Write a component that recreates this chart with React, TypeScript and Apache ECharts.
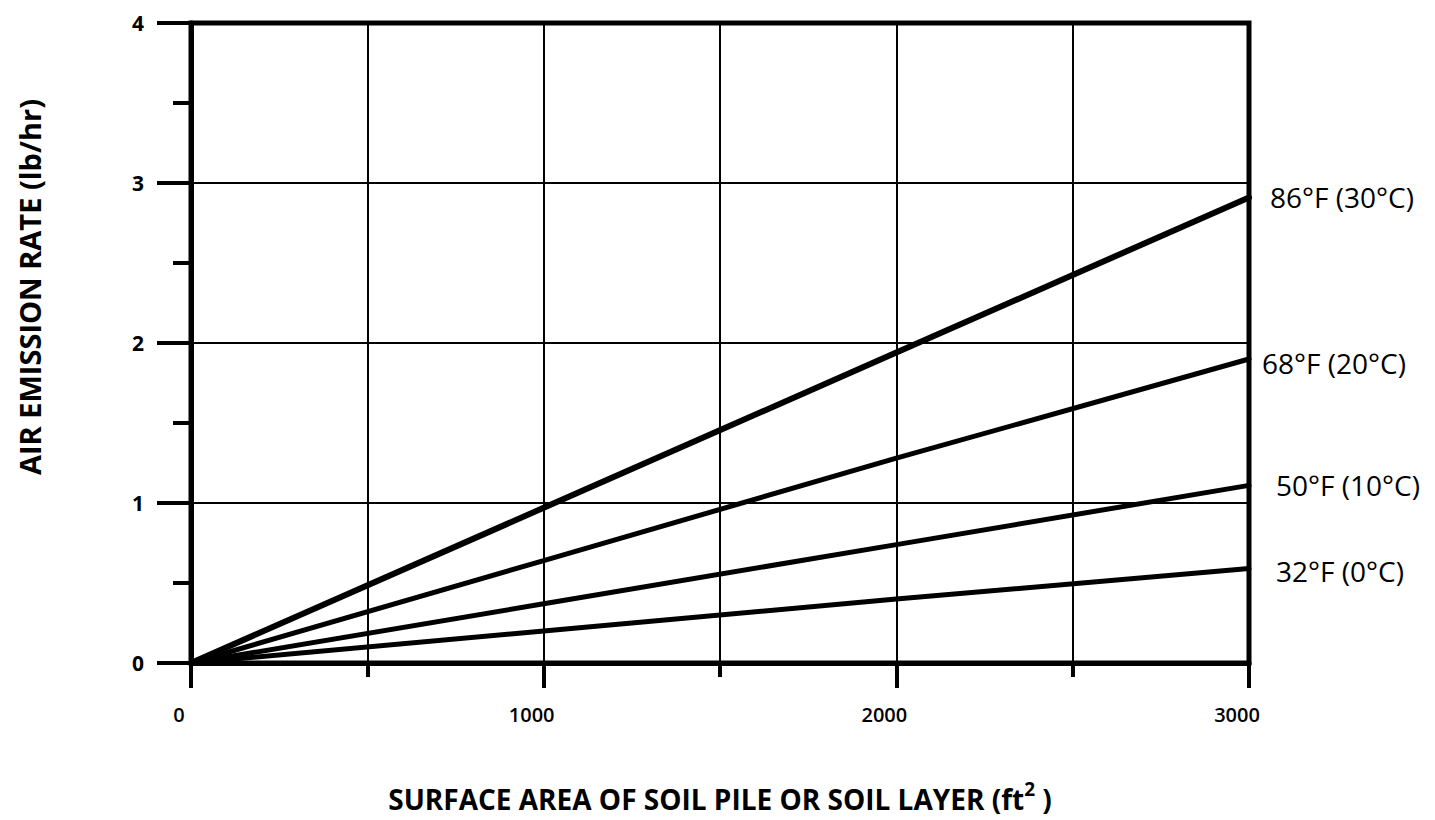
import React, { useEffect, useRef } from "react";
import * as echarts from "echarts";

const areaTicks = [0, 1000, 2000, 3000];
const rate86F = [0, 0.97, 1.94, 2.91];
const rate68F = [0, 0.64, 1.28, 1.9];
const rate50F = [0, 0.37, 0.74, 1.11];
const rate32F = [0, 0.2, 0.4, 0.59];
const seriesNames = ["86°F (30°C)", "68°F (20°C)", "50°F (10°C)", "32°F (0°C)"];
const seriesValues = [rate86F, rate68F, rate50F, rate32F];
const lineWidths = [6, 5, 5, 5];
const labelOffsets: [number, number][] = [[13, 0], [5, 4], [19, 0], [19, 2]];

const FONT = "'Open Sans', Lato, sans-serif";

export default function App() {
  const ref = useRef<HTMLDivElement>(null);
  useEffect(() => {
    if (!ref.current) return;
    const chart = echarts.init(ref.current, null, { renderer: "svg" });
    const series = seriesNames.map((name, i) => ({
      name,
      type: "line",
      showSymbol: false,
      symbol: "none",
      data: areaTicks.map((x, j) => [x, seriesValues[i][j]]),
      lineStyle: { color: "#000", width: lineWidths[i], cap: "round" },
      itemStyle: { color: "#000" },
      z: 5,
      endLabel: {
        show: true,
        formatter: "{a}",
        fontSize: 28,
        fontFamily: FONT,
        color: "#000",
        offset: labelOffsets[i],
      },
    }));
    chart.setOption({
      animation: false,
      backgroundColor: "#fff",
      textStyle: { fontFamily: FONT },
      grid: {
        left: 191,
        right: 186,
        top: 23,
        bottom: 157,
        show: true,
        borderColor: "#000",
        borderWidth: 5,
        backgroundColor: "transparent",
      },
      xAxis: {
        type: "value",
        min: 0,
        max: 3000,
        interval: 1000,
        name: "SURFACE AREA OF SOIL PILE OR SOIL LAYER (ft{sup|2} )",
        nameLocation: "middle",
        nameGap: 116,
        nameTextStyle: {
          fontSize: 28,
          fontWeight: "bold",
          fontFamily: FONT,
          color: "#000",
          rich: {
            sup: {
              fontSize: 19,
              fontWeight: "bold",
              fontFamily: FONT,
              color: "#000",
              padding: [0, 0, 20, 0],
            },
          },
        },
        axisLine: { show: true, lineStyle: { color: "#000", width: 5 } },
        axisTick: { show: true, length: 25, lineStyle: { color: "#000", width: 4 } },
        minorTick: { show: true, splitNumber: 2, length: 14, lineStyle: { color: "#000", width: 4 } },
        splitLine: { show: true, lineStyle: { color: "#000", width: 2 } },
        minorSplitLine: { show: true, lineStyle: { color: "#000", width: 2 } },
        axisLabel: {
          fontSize: 20,
          fontWeight: 600,
          fontFamily: FONT,
          color: "#000",
          margin: 41,
          padding: [0, 24, 0, 0],
          formatter: (v: number) => String(v),
        },
      },
      yAxis: {
        type: "value",
        min: 0,
        max: 4,
        interval: 1,
        axisLine: { show: true, lineStyle: { color: "#000", width: 5 } },
        axisTick: { show: true, length: 34, lineStyle: { color: "#000", width: 4 } },
        minorTick: { show: true, splitNumber: 2, length: 18, lineStyle: { color: "#000", width: 4 } },
        splitLine: { show: true, lineStyle: { color: "#000", width: 2 } },
        axisLabel: {
          fontSize: 21,
          fontWeight: "bold",
          fontFamily: FONT,
          color: "#000",
          margin: 47,
          padding: [0, 0, 6, 0],
        },
      },
      graphic: [
        {
          type: "text",
          x: 29,
          y: 287,
          rotation: Math.PI / 2,
          style: {
            text: "AIR EMISSION RATE (lb/hr)",
            fontSize: 29,
            fontWeight: "bold",
            fontFamily: FONT,
            fill: "#000",
            align: "center",
            verticalAlign: "middle",
          },
        },
      ],
      series,
    });
    return () => chart.dispose();
  }, []);
  return (
    <div
      ref={ref}
      style={{ position: "fixed", left: 0, top: 0, width: 1435, height: 820, background: "#fff" }}
    />
  );
}
